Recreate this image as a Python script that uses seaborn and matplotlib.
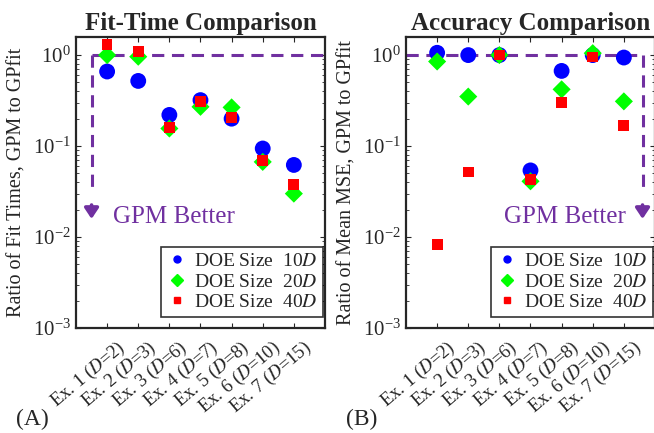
import numpy as np
import pandas as pd
import matplotlib
matplotlib.use('Agg')
import matplotlib.pyplot as plt
import matplotlib.transforms as mtrans
import seaborn as sns
from matplotlib.lines import Line2D

# data
examples = ['Ex. 1 ($\\mathit{D}$=2)', 'Ex. 2 ($\\mathit{D}$=3)', 'Ex. 3 ($\\mathit{D}$=6)',
            'Ex. 4 ($\\mathit{D}$=7)', 'Ex. 5 ($\\mathit{D}$=8)', 'Ex. 6 ($\\mathit{D}$=10)',
            'Ex. 7 ($\\mathit{D}$=15)']
ex_pos = [1, 2, 3, 4, 5, 6, 7]
doe_labels = ['DOE Size  10$\\mathit{D}$', 'DOE Size  20$\\mathit{D}$', 'DOE Size  40$\\mathit{D}$']

fit_10d = [0.66, 0.52, 0.22, 0.32, 0.20, 0.094, 0.062]
fit_20d = [1.00, 0.96, 0.156, 0.27, 0.266, 0.067, 0.030]
fit_40d = [1.31, 1.09, 0.16, 0.31, 0.206, 0.070, 0.038]

mse_10d = [1.06, 1.00, 1.00, 0.054, 0.67, 1.00, 0.94]
mse_20d = [0.85, 0.35, 1.00, 0.041, 0.42, 1.05, 0.31]
mse_40d = [0.0083, 0.052, 1.00, 0.043, 0.30, 0.95, 0.167]

sns.set_style('ticks')
plt.rcParams['font.family'] = ['Liberation Serif', 'DejaVu Serif']
plt.rcParams['mathtext.fontset'] = 'stix'
purple = '#7030A0'

fig = plt.figure(figsize=(6.54, 4.33), dpi=100)
axA = fig.add_axes([0.1162, 0.2425, 0.3807, 0.672])
axB = fig.add_axes([0.6208, 0.2425, 0.3807, 0.672])

styles = [('o', '#0000FF', 130), ('D', '#00FF00', 85), ('s', '#FF0000', 60)]


def panel(ax, series, title, ylabel, tag, right_arrow):
    for vals, (mk, col, sz) in zip(series, styles):
        df = pd.DataFrame({'x': ex_pos, 'y': vals})
        sns.scatterplot(data=df, x='x', y='y', marker=mk, color=col, s=sz,
                        edgecolor='none', ax=ax, zorder=3)
    ax.set_yscale('log')
    ax.set_ylim(1e-3, 1.58)
    ax.set_xlim(0, 8)
    ax.set_yticks([1e-3, 1e-2, 1e-1, 1])
    ax.tick_params(axis='both', which='both', direction='in', top=True, right=True)
    ax.tick_params(axis='y', labelsize=15)
    ax.tick_params(axis='x', pad=4)
    ax.set_xticks(ex_pos)
    ax.set_xticklabels(examples, rotation=40, ha='right', rotation_mode='anchor',
                       fontsize=13.5)
    shift = mtrans.ScaledTranslation(9 / 100, -4 / 100, fig.dpi_scale_trans)
    for lab in ax.get_xticklabels():
        lab.set_transform(lab.get_transform() + shift)
    for sp in ax.spines.values():
        sp.set_linewidth(1.6)
    ax.set_xlabel('')
    ax.set_ylabel(ylabel, fontsize=14.5, labelpad=5)
    ax.set_title(title, fontsize=18, fontweight='bold', pad=5)

    # GPM better reference lines
    if right_arrow:
        xv = 7.6
        ax.plot([0, xv], [1, 1], ls='--', color=purple, lw=2.2, dashes=(4, 2.5), zorder=2)
        ax.text(7.05, 0.0165, 'GPM Better', color=purple, fontsize=18, ha='right', va='center')
    else:
        xv = 0.5
        ax.plot([xv, 8], [1, 1], ls='--', color=purple, lw=2.2, dashes=(4, 2.5), zorder=2)
        ax.text(1.2, 0.0165, 'GPM Better', color=purple, fontsize=18, ha='left', va='center')
    ax.plot([xv, xv], [1, 0.03], ls='--', color=purple, lw=2.2, dashes=(4, 2.5), zorder=2)
    ax.annotate('', xy=(xv, 0.0158), xytext=(xv, 0.0225),
                arrowprops=dict(arrowstyle='-|>,head_width=0.3,head_length=0.45',
                                color=purple, lw=2.6, mutation_scale=14,
                                shrinkA=0, shrinkB=0))

    handles = [Line2D([], [], ls='none', marker=mk, color=col, markersize=ms)
               for (mk, col, _), ms in zip(styles, [5, 6, 5])]
    leg = ax.legend(handles, doe_labels, loc='lower right', fontsize=14,
                    bbox_to_anchor=(0.992, 0.038),
                    frameon=True, fancybox=False, edgecolor='black',
                    borderaxespad=0, handletextpad=0.3, borderpad=0.3,
                    labelspacing=0.15, handlelength=1.1)
    leg.get_frame().set_linewidth(1.2)
    ax.text(-0.24, -0.335, tag, transform=ax.transAxes, fontsize=17)


panel(axA, [fit_10d, fit_20d, fit_40d], 'Fit-Time Comparison',
      'Ratio of Fit Times, GPM to GPfit', '(A)', False)
panel(axB, [mse_10d, mse_20d, mse_40d], 'Accuracy Comparison',
      'Ratio of Mean MSE, GPM to GPfit', '(B)', True)

fig.savefig('out.png', dpi=100)
